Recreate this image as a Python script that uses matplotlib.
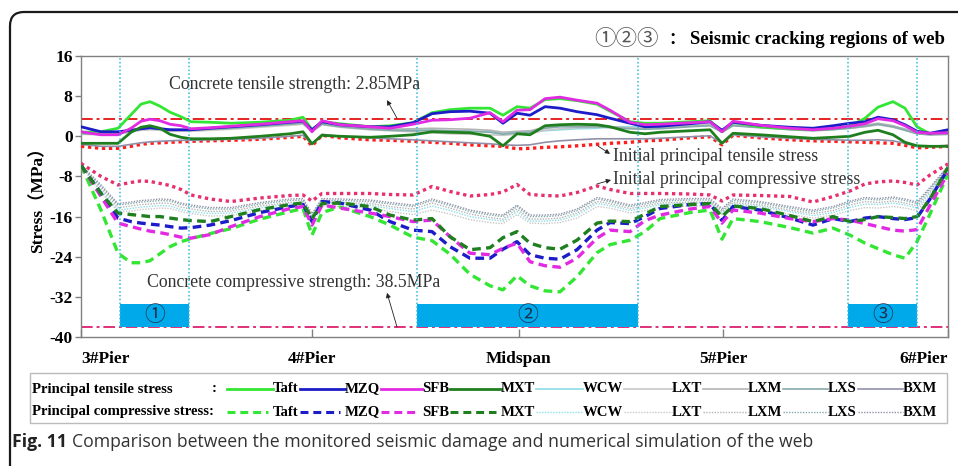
import matplotlib
matplotlib.use("Agg")
import matplotlib.pyplot as plt
from matplotlib.patches import FancyBboxPatch, Rectangle
from matplotlib.lines import Line2D
from matplotlib.transforms import IdentityTransform

plt.rcParams["axes.unicode_minus"] = False

# ---------------- data ----------------
positions = [0, 20, 37, 50, 60, 69, 79, 89, 100, 110, 129, 150, 179,
             209, 222, 231, 241, 259, 289, 309, 332, 351, 369, 389, 409, 422,
             436, 449, 464, 479, 496, 516, 529, 549, 564, 579, 609, 629, 641,
             652, 679, 709, 732, 752, 769, 784, 797, 812, 824, 836, 849, 867]
tick_positions = [0, 231, 438, 642, 867]
tick_labels = ["3#Pier", "4#Pier", "Midspan", "5#Pier", "6#Pier"]
y_ticks = [16, 8, 0, -8, -16, -24, -32, -40]
records = ["Taft", "MZQ", "SFB", "MXT", "WCW", "LXT", "LXM", "LXS", "BXM"]

tensile_taft = [0.8, 0.9, 1.6, 4.3, 6.4, 6.9, 6.0, 4.8, 3.9, 2.9, 2.8, 2.6, 2.8,
                3.2, 3.8, 1.3, 2.9, 2.5, 1.9, 2.1, 2.7, 4.7, 5.3, 5.6, 5.6, 4.2,
                5.9, 5.6, 7.3, 7.5, 7.1, 6.4, 5.0, 2.9, 2.6, 2.6, 2.9, 3.1, 0.9,
                2.8, 1.9, 1.5, 1.3, 1.6, 2.0, 3.6, 5.8, 6.9, 5.6, 1.9, 0.5, 1.2]
tensile_mzq = [1.9, 0.9, 0.9, 1.2, 1.5, 1.7, 1.5, 1.3, 1.3, 1.3, 1.6, 1.9, 2.3,
               2.8, 3.0, 1.3, 2.9, 2.3, 1.9, 1.9, 2.7, 4.5, 4.9, 5.0, 4.6, 2.6,
               4.6, 4.2, 5.9, 5.6, 4.9, 4.3, 3.6, 2.6, 1.9, 2.0, 2.5, 2.9, 1.2,
               2.8, 2.2, 1.8, 1.6, 2.1, 2.6, 2.9, 3.8, 3.3, 2.3, 1.0, 0.6, 1.3]
tensile_sfb = [0.9, 0.3, 0.3, 1.6, 3.0, 3.4, 3.1, 2.4, 2.1, 1.5, 1.7, 2.0, 2.4,
               2.9, 3.1, 0.9, 3.1, 2.3, 1.9, 1.6, 2.4, 3.2, 3.3, 3.6, 4.7, 2.9,
               5.2, 5.3, 7.5, 7.8, 7.2, 6.6, 5.2, 2.8, 2.3, 2.4, 2.7, 2.9, 0.9,
               3.0, 2.2, 1.6, 1.3, 1.6, 2.0, 2.5, 3.5, 3.1, 2.1, 0.8, 0.6, 0.7]
tensile_mxt = [-1.4, -1.4, -1.4, 0.8, 1.8, 2.1, 1.6, 0.4, -0.2, -0.5, -0.5, -0.4, 0.0,
               0.5, 0.9, -1.5, 0.2, 0.0, -0.2, 0.0, 0.3, 0.9, 0.8, 0.7, 0.0, -1.9,
               0.5, 0.3, 2.1, 2.3, 2.4, 2.3, 1.9, 0.8, 0.5, 0.8, 1.1, 1.3, -1.4,
               0.6, 0.3, -0.1, -0.4, -0.2, 0.0, 0.8, 1.2, 0.3, -1.2, -1.9, -2.0, -2.0]
tensile_wcw = [0.6, 0.5, 0.6, 1.0, 1.3, 1.4, 1.3, 1.2, 1.2, 1.2, 1.4, 1.6, 2.0,
               2.4, 2.6, 1.1, 2.5, 2.0, 1.5, 1.3, 1.3, 1.2, 1.1, 1.0, 0.9, 0.6,
               0.8, 0.9, 1.1, 1.3, 1.5, 1.6, 1.9, 1.9, 1.9, 2.0, 2.3, 2.5, 1.0,
               2.5, 2.0, 1.6, 1.4, 1.6, 1.8, 2.0, 2.4, 2.0, 1.5, 0.8, 0.6, 0.7]
tensile_lxt = [0.4, 0.3, 0.4, 0.9, 1.2, 1.3, 1.2, 1.0, 1.0, 1.0, 1.2, 1.4, 1.8,
               2.2, 2.4, 0.9, 2.3, 1.8, 1.3, 1.1, 0.9, 0.7, 0.5, 0.4, 0.3, 0.2,
               0.4, 0.5, 1.2, 1.5, 1.7, 1.8, 1.8, 1.7, 1.7, 1.8, 2.1, 2.3, 0.8,
               2.3, 1.8, 1.4, 1.2, 1.4, 1.6, 1.9, 2.3, 1.8, 1.2, 0.5, 0.3, 0.4]
tensile_lxm = [0.7, 0.6, 0.7, 1.1, 1.5, 1.7, 1.6, 1.4, 1.3, 1.3, 1.5, 1.7, 2.1,
               2.5, 2.7, 1.2, 2.6, 2.1, 1.6, 1.4, 1.5, 1.6, 1.5, 1.4, 1.2, 0.8,
               1.0, 1.1, 1.8, 2.0, 2.0, 2.0, 1.9, 1.6, 1.5, 1.7, 2.0, 2.2, 0.9,
               2.2, 1.8, 1.5, 1.3, 1.5, 1.8, 2.2, 2.6, 2.1, 1.4, 0.6, 0.4, 0.5]
tensile_lxs = [0.5, 0.4, 0.5, 1.0, 1.4, 1.6, 1.5, 1.3, 1.2, 1.2, 1.4, 1.6, 2.0,
               2.4, 2.6, 1.0, 2.4, 1.9, 1.4, 1.2, 1.1, 1.2, 1.1, 1.0, 0.8, 0.4,
               0.7, 0.8, 1.6, 1.9, 1.9, 1.9, 1.7, 1.5, 1.4, 1.5, 1.9, 2.1, 0.8,
               2.1, 1.7, 1.3, 1.1, 1.3, 1.6, 2.0, 2.4, 1.9, 1.2, 0.5, 0.3, 0.4]
tensile_bxm = [-1.6, -2.0, -2.0, -1.6, -1.3, -1.1, -1.0, -0.9, -0.8, -0.8, -0.7, -0.6, -0.4,
               0.0, 0.2, -1.6, 0.4, 0.0, -0.3, -0.5, -0.7, -0.9, -1.1, -1.3, -1.5, -1.7,
               -1.8, -1.7, -1.2, -0.9, -0.7, -0.5, -0.5, -0.5, -0.5, -0.4, -0.1, 0.1, -1.4,
               0.3, -0.1, -0.4, -0.6, -0.7, -0.8, -0.8, -0.7, -0.9, -1.4, -2.0, -2.0, -1.8]
initial_tensile = [-2.0, -2.4, -2.4, -2.0, -1.6, -1.4, -1.3, -1.2, -1.1, -1.0, -0.9, -0.8, -0.6,
                   -0.2, 0.0, -1.9, 0.2, -0.3, -0.7, -0.8, -1.0, -1.2, -1.4, -1.7, -1.9, -2.0,
                   -2.5, -2.4, -2.2, -2.1, -1.9, -1.6, -1.4, -1.2, -0.9, -0.8, -0.3, -0.1, -1.7,
                   0.2, -0.3, -0.7, -0.9, -1.0, -1.1, -1.2, -1.3, -1.4, -1.8, -2.3, -2.2, -2.0]

compress_taft = [-5.8, -14.7, -23.3, -25.2, -25.2, -24.8, -23.4, -22.0, -21.0, -20.4, -19.4, -18.4, -16.5,
                 -15.0, -14.4, -19.7, -15.2, -14.1, -16.0, -17.7, -20.1, -20.8, -23.5, -27.5, -29.8, -30.6,
                 -27.8, -29.8, -30.8, -31.0, -28.0, -23.2, -21.6, -20.7, -19.0, -16.4, -15.2, -14.7, -20.5,
                 -16.4, -17.0, -18.2, -19.3, -18.3, -19.7, -21.3, -22.4, -23.6, -24.3, -21.0, -15.5, -7.5]
compress_mzq = [-5.8, -11.4, -16.3, -17.0, -17.3, -17.5, -17.7, -18.0, -18.3, -18.2, -17.7, -16.8, -15.2,
                -14.0, -13.6, -17.0, -13.0, -13.3, -14.7, -17.0, -18.7, -19.0, -22.0, -24.3, -24.3, -22.5,
                -21.0, -23.6, -24.3, -24.5, -22.6, -18.7, -17.2, -17.4, -16.0, -14.4, -13.6, -13.4, -16.8,
                -14.0, -14.7, -16.3, -17.7, -16.4, -17.0, -16.3, -16.0, -16.4, -16.6, -16.2, -12.5, -6.5]
compress_sfb = [-5.8, -12.0, -17.3, -18.0, -18.5, -18.9, -19.2, -19.6, -20.1, -20.3, -19.6, -18.0, -16.0,
                -14.4, -14.0, -17.7, -13.7, -14.3, -15.3, -16.0, -17.0, -16.7, -20.0, -23.3, -23.6, -22.3,
                -21.3, -25.0, -25.8, -26.1, -24.3, -20.3, -18.7, -19.0, -16.8, -15.7, -14.5, -14.0, -17.3,
                -14.7, -15.3, -16.4, -17.0, -16.4, -16.7, -17.4, -18.0, -18.7, -18.9, -18.6, -13.8, -7.3]
compress_mxt = [-5.8, -11.4, -15.3, -15.6, -15.8, -16.0, -16.0, -16.3, -16.6, -16.8, -17.0, -16.0, -14.6,
                -13.6, -13.3, -16.4, -13.4, -13.3, -14.0, -15.7, -16.7, -16.4, -20.0, -22.6, -22.2, -20.2,
                -19.0, -21.3, -22.2, -22.5, -20.7, -17.3, -16.9, -17.0, -15.5, -14.0, -13.6, -13.4, -16.0,
                -13.9, -14.4, -15.8, -17.0, -16.0, -17.0, -16.6, -16.0, -16.2, -16.4, -16.0, -12.5, -6.2]
compress_wcw = [-5.9, -10.8, -14.7, -14.4, -14.1, -14.0, -13.8, -13.9, -14.6, -15.0, -15.4, -15.3, -14.3,
                -13.5, -13.3, -16.3, -13.3, -13.5, -13.8, -14.4, -15.0, -13.9, -14.8, -16.0, -16.6, -16.9,
                -15.0, -16.9, -16.9, -16.7, -15.7, -13.4, -13.8, -14.8, -14.3, -13.6, -13.4, -13.3, -15.3,
                -13.5, -14.0, -15.0, -15.8, -15.2, -14.2, -13.5, -13.6, -13.3, -13.7, -14.3, -11.3, -6.2]
compress_lxt = [-5.9, -11.2, -15.0, -14.9, -14.6, -14.5, -14.3, -14.4, -15.0, -15.4, -15.9, -15.8, -14.8,
                -14.0, -13.8, -16.6, -13.8, -14.0, -14.3, -15.0, -15.6, -14.7, -15.5, -16.6, -17.2, -17.4,
                -15.6, -17.3, -17.4, -17.2, -16.3, -14.0, -14.3, -15.3, -14.8, -14.1, -13.9, -13.8, -15.6,
                -14.0, -14.5, -15.6, -16.3, -15.7, -14.8, -14.2, -14.3, -14.0, -14.3, -14.8, -11.8, -6.3]
compress_lxm = [-5.8, -10.4, -14.2, -13.9, -13.6, -13.5, -13.3, -13.4, -14.1, -14.5, -15.0, -14.9, -13.9,
                -13.2, -13.1, -16.0, -13.1, -13.2, -13.4, -14.0, -14.5, -13.3, -14.3, -15.5, -16.2, -16.5,
                -14.5, -16.5, -16.5, -16.3, -15.3, -13.0, -13.4, -14.4, -13.9, -13.3, -13.1, -13.1, -15.0,
                -13.2, -13.7, -14.7, -15.4, -14.8, -13.7, -13.0, -13.2, -12.9, -13.3, -13.9, -10.9, -6.1]
compress_lxs = [-5.8, -10.0, -13.7, -13.4, -13.1, -13.0, -12.8, -12.9, -13.6, -14.0, -14.5, -14.5, -13.5,
                -12.8, -12.7, -15.7, -12.7, -12.8, -13.0, -13.5, -14.0, -12.8, -13.8, -15.0, -15.7, -16.0,
                -14.0, -16.0, -16.0, -15.8, -14.8, -12.5, -13.0, -14.0, -13.5, -12.9, -12.7, -12.7, -14.7,
                -12.8, -13.3, -14.3, -15.0, -14.3, -13.2, -12.5, -12.7, -12.4, -12.8, -13.4, -10.5, -6.0]
compress_bxm = [-5.7, -9.7, -13.4, -13.1, -12.8, -12.7, -12.5, -12.6, -13.3, -13.7, -14.2, -14.2, -13.2,
                -12.5, -12.4, -15.4, -12.4, -12.5, -12.7, -13.2, -13.7, -12.5, -13.5, -14.7, -15.4, -15.7,
                -13.7, -15.7, -15.7, -15.5, -14.5, -12.2, -12.7, -13.7, -13.2, -12.6, -12.4, -12.4, -14.4,
                -12.5, -13.0, -14.0, -14.7, -14.0, -12.9, -12.2, -12.4, -12.1, -12.5, -13.1, -10.2, -5.9]
initial_compress = [-5.4, -8.0, -9.7, -9.2, -8.9, -9.0, -9.4, -9.8, -10.6, -11.7, -12.5, -13.0, -12.3,
                    -11.8, -11.7, -12.9, -11.4, -11.4, -11.4, -11.6, -11.7, -10.0, -11.0, -11.9, -11.6, -11.1,
                    -9.6, -11.6, -11.8, -11.9, -11.2, -9.9, -10.6, -11.4, -11.4, -11.4, -11.5, -11.7, -12.9,
                    -11.7, -11.8, -12.0, -13.1, -12.0, -10.9, -9.5, -9.1, -8.9, -9.2, -9.7, -7.7, -5.5]

tensile_strength = 3.4
compressive_strength = -38.0
crack_regions = [(39, 108), (336, 557), (767, 836)]
crack_labels = ["①", "②", "③"]
crack_band = (-38.0, -33.4)

tensile = [tensile_taft, tensile_mzq, tensile_sfb, tensile_mxt, tensile_wcw,
           tensile_lxt, tensile_lxm, tensile_lxs, tensile_bxm]
compress = [compress_taft, compress_mzq, compress_sfb, compress_mxt, compress_wcw,
            compress_lxt, compress_lxm, compress_lxs, compress_bxm]

# ---------------- styles ----------------
colors = ["#33E633", "#1C1CC8", "#E22AE2", "#1F7F1F", "#8EDDE6",
          "#C8C8C8", "#B4B4B4", "#86AAAA", "#9090AA"]
main = [True, True, True, True, False, False, False, False, False]
DASH = (0, (2.6, 1.6))
DOT = (0, (1, 1.1))

W, H = 958, 466
fig = plt.figure(figsize=(W / 100, H / 100), dpi=100)
fig.patch.set_facecolor("white")


def fx(px):
    return px / W


def fy(py):
    return 1 - py / H


SERIF = ["Liberation Serif", "DejaVu Serif"]
SERIF_CJK = ["Liberation Serif", "Noto Sans CJK SC", "DejaVu Sans"]
CJK = ["Noto Sans CJK SC", "DejaVu Sans"]
ANN = 12.8
LEG = 10.6

# outer rounded frame
frame = FancyBboxPatch((10, -40), 1100, 454 + 40,
                       boxstyle="round,pad=0,rounding_size=14",
                       transform=IdentityTransform(), fill=False,
                       edgecolor="#1a1a1a", linewidth=1.6)
fig.add_artist(frame)

ax = fig.add_axes([fx(81), fy(337), fx(948) - fx(81), fy(56) - fy(337)])

# strength lines
ax.axhline(tensile_strength, color="#E82222", lw=1.4, ls=(0, (6, 2, 1.5, 2)), zorder=2)
ax.axhline(compressive_strength, color="#E0307A", lw=1.4, ls=(0, (6, 2, 1.5, 2)), zorder=2)

# crack regions
for (a, b), lab in zip(crack_regions, crack_labels):
    ax.bar((a + b) / 2, crack_band[1] - crack_band[0], width=b - a,
           bottom=crack_band[0], color="#00A9EA", zorder=6, linewidth=0)
    for xv in (a, b):
        ax.plot([xv, xv], [crack_band[0], 16], color="#2FB8E0", lw=1.1,
                ls=(0, (1, 1.5)), zorder=7)
    ax.text((a + b) / 2, (crack_band[0] + crack_band[1]) / 2, lab,
            family=CJK, fontsize=15, color="#1E3050", ha="center",
            va="center", zorder=8)

# initial lines
ax.plot(positions, initial_tensile, color="#FF1E1E", lw=2.4, ls=DOT, zorder=3)
ax.plot(positions, initial_compress, color="#E8306E", lw=2.4, ls=DOT, zorder=3)

# light series first
for i in range(len(records)):
    if not main[i]:
        ax.plot(positions, tensile[i], color=colors[i], lw=1.2, zorder=4)
        ax.plot(positions, compress[i], color=colors[i], lw=1.0, ls=(0, (1, 1)), zorder=4)
for i in range(len(records)):
    if main[i]:
        ax.plot(positions, tensile[i], color=colors[i], lw=2.0, zorder=5)
        ax.plot(positions, compress[i], color=colors[i], lw=2.4, ls=DASH, zorder=5)

ax.set_xlim(0, 867)
ax.set_ylim(-40, 16)
ax.set_yticks(y_ticks)
ax.set_xticks(tick_positions)
ax.set_xticklabels(tick_labels)
for sp in ax.spines.values():
    sp.set_color("#808080")
    sp.set_linewidth(1.0)
ax.tick_params(axis="y", direction="out", length=4, width=1, color="#808080", pad=2)
ax.tick_params(axis="x", direction="in", length=6, width=1, color="#808080", pad=10)
for t in ax.get_yticklabels():
    t.set_fontfamily(SERIF)
    t.set_fontweight("bold")
    t.set_fontsize(12.5)
xt = ax.get_xticklabels()
for t in xt:
    t.set_fontfamily(SERIF)
    t.set_fontweight("bold")
    t.set_fontsize(12.5)
xt[0].set_ha("left")
xt[-1].set_ha("right")

fig.text(fx(38), fy(196), "Stress（MPa）", rotation=90, family=SERIF_CJK,
         fontweight="bold", fontsize=12.5, ha="center", va="center")

# annotations
arrow = dict(arrowstyle="-|>", color="#222222", lw=0.6, mutation_scale=7,
             shrinkA=0, shrinkB=0)
ax.text(214, 10.4, "Concrete tensile strength: 2.85MPa", ha="center", va="center",
        family=SERIF, fontsize=ANN, color="#333333", zorder=9)
ax.annotate("", xy=(306, 7.2), xytext=(316, 3.6), arrowprops=arrow, zorder=9)
ax.text(213, -29.2, "Concrete compressive strength: 38.5MPa", ha="center", va="center",
        family=SERIF, fontsize=ANN, color="#333333", zorder=9)
ax.annotate("", xy=(306, -31.2), xytext=(316, -38.0), arrowprops=arrow, zorder=9)
ax.text(532, -4.1, "Initial principal tensile stress", ha="left", va="center",
        family=SERIF, fontsize=ANN, color="#333333", zorder=9)
ax.annotate("", xy=(529, -3.5), xytext=(517, -1.95), arrowprops=arrow, zorder=9)
ax.text(532, -8.7, "Initial principal compressive stress", ha="left", va="center",
        family=SERIF, fontsize=ANN, color="#333333", zorder=9)
ax.annotate("", xy=(530, -8.7), xytext=(516, -9.5), arrowprops=arrow, zorder=9)

# title
fig.text(fx(594), fy(39), "①②③", family=CJK, fontsize=15.5, color="#555555",
         ha="left", va="center")
fig.text(fx(668), fy(39), "：", family=CJK, fontsize=12, fontweight="bold",
         ha="left", va="center")
fig.text(fx(945), fy(39), "Seismic cracking regions of web", family=SERIF,
         fontsize=13.5, fontweight="bold", ha="right", va="center")

# legend box
fig.add_artist(Rectangle((fx(30), fy(423)), fx(947) - fx(30), fy(373) - fy(423),
                         transform=fig.transFigure, fill=False,
                         edgecolor="#BBBBBB", lw=1.0))
row_y = [389, 412]
fig.text(fx(32), fy(row_y[0]), "Principal tensile stress", family=SERIF,
         fontsize=LEG, fontweight="bold", ha="left", va="center")
fig.text(fx(212), fy(row_y[0]), ":", family=SERIF, fontsize=LEG,
         fontweight="bold", ha="left", va="center")
fig.text(fx(32), fy(row_y[1]), "Principal compressive stress:", family=SERIF,
         fontsize=LEG, fontweight="bold", ha="left", va="center")
label_x = [273, 345, 422, 501, 583, 672, 748, 828, 903]
r = fig.canvas.get_renderer()
prev_end = [227, 227]
for i, name in enumerate(records):
    x1 = label_x[i]
    ends = []
    for k, ry in enumerate(row_y):
        t = fig.text(fx(x1), fy(ry), name, family=SERIF, fontsize=LEG,
                     fontweight="bold", ha="left", va="center")
        ends.append(t.get_window_extent(renderer=r).x1 + 1)
    lw_t = 2.0 if main[i] else 1.2
    fig.add_artist(Line2D([fx(prev_end[0]), fx(x1)], [fy(row_y[0])] * 2,
                          transform=fig.transFigure, color=colors[i], lw=lw_t))
    if main[i]:
        fig.add_artist(Line2D([fx(prev_end[1]), fx(x1 - 5)], [fy(row_y[1])] * 2,
                              transform=fig.transFigure, color=colors[i], lw=2.2, ls=DASH))
    else:
        fig.add_artist(Line2D([fx(prev_end[1]), fx(x1)], [fy(row_y[1])] * 2,
                              transform=fig.transFigure, color=colors[i], lw=1.0,
                              ls=(0, (1, 1))))
    prev_end = ends

# caption
cap1 = fig.text(fx(12), fy(442), "Fig. 11", family=["Open Sans", "DejaVu Sans"],
                fontsize=12.7, fontweight="bold", color="#222222", ha="left", va="center")
bb = cap1.get_window_extent(renderer=r)
fig.text(bb.x1 / W + fx(5), fy(442),
         "Comparison between the monitored seismic damage and numerical simulation of the web",
         family=["Open Sans", "DejaVu Sans"], fontsize=12.7, color="#333333",
         ha="left", va="center")

fig.savefig("out.png", dpi=100)
